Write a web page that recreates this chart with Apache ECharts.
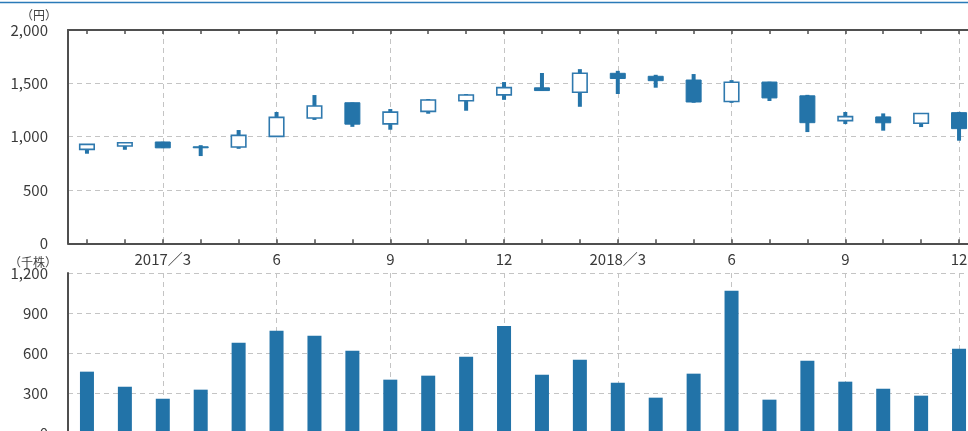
<!DOCTYPE html>
<html>
<head>
<meta charset="utf-8">
<script src="https://cdn.jsdelivr.net/npm/echarts@6/dist/echarts.min.js"></script>
<style>
html,body{margin:0;padding:0;background:#fff;overflow:hidden;}
#chart{width:968px;height:431px;}
</style>
</head>
<body>
<div id="chart"></div>
<script>
var months = ['2017/1','2017/2','2017/3','2017/4','2017/5','2017/6','2017/7','2017/8','2017/9','2017/10','2017/11','2017/12',
              '2018/1','2018/2','2018/3','2018/4','2018/5','2018/6','2018/7','2018/8','2018/9','2018/10','2018/11','2018/12'];
var tickLabels = ['','','2017／3','','','6','','','9','','','12','','','2018／3','','','6','','','9','','','12'];
var openPrice  = [881, 912, 950, 905, 903,1003,1175,1318,1120,1237,1337,1392,1458,1417,1594,1566,1531,1330,1512,1383,1150,1185,1125,1225];
var closePrice = [928, 943, 895, 898,1012,1181,1287,1117,1230,1343,1390,1460,1432,1594,1545,1525,1325,1510,1363,1131,1188,1130,1217,1075];
var lowPrice   = [840, 877, 893, 818, 886,1000,1157,1092,1065,1215,1243,1345,1430,1280,1400,1459,1318,1317,1334,1043,1118,1056,1090, 962];
var highPrice  = [928, 950, 952, 920,1062,1231,1390,1320,1259,1353,1400,1512,1597,1633,1617,1580,1587,1530,1515,1392,1231,1218,1219,1232];
var volume     = [460, 347, 257, 325, 677, 767, 730, 617, 400, 430, 572, 802, 437, 550, 377, 265, 445,1067, 250, 542, 385, 332, 280, 632];
var priceTicks = {min:0, max:2000, interval:500};
var volumeTicks = {min:0, max:1200, interval:300};

var candleData = months.map(function(m, i){ return [i, openPrice[i], closePrice[i], lowPrice[i], highPrice[i]]; });

var blue = '#2474a9';
var axisColor = '#4f4f4f';
var gridColor = '#c4c4c4';
var font = '"Noto Sans CJK JP", "Noto Sans", sans-serif';
function fmt(v){ return String(v).replace(/\B(?=(\d{3})+(?!\d))/g, ','); }
function isMajor(i){ return tickLabels[i] !== ''; }

var chart = echarts.init(document.getElementById('chart'), null, {renderer:'canvas'});
var option = {
  animation: false,
  backgroundColor: '#fff',
  textStyle: {fontFamily: font},
  grid: [
    {left: 68, top: 30, width: 910, height: 213.3, containLabel: false, outerBoundsMode: 'none'},
    {left: 68, top: 273, width: 910, height: 160, containLabel: false, outerBoundsMode: 'none'}
  ],
  xAxis: [
    {
      gridIndex: 0, type: 'category', data: months, position: 'bottom', boundaryGap: true,
      axisLine: {show: true, lineStyle: {color: axisColor, width: 2}},
      axisTick: {show: true, inside: true, length: 4, alignWithLabel: true, interval: 0, lineStyle: {color: axisColor, width: 1.5}},
      axisLabel: {show: true, interval: 0, margin: 8, fontSize: 15, color: '#3a3a3a', fontFamily: font,
                  formatter: function(v, i){ return tickLabels[i]; }},
      splitLine: {show: true, alignWithLabel: true, interval: function(i){ return isMajor(i); },
                  lineStyle: {color: gridColor, type: [5, 4], width: 1}}
    },
    {
      gridIndex: 0, type: 'category', data: months, position: 'top', boundaryGap: true,
      axisLine: {show: true, lineStyle: {color: axisColor, width: 2}},
      axisTick: {show: true, inside: true, length: 4, alignWithLabel: true, interval: 0, lineStyle: {color: axisColor, width: 1.5}},
      axisLabel: {show: false},
      splitLine: {show: false}
    },
    {
      gridIndex: 1, type: 'category', data: months, position: 'top', boundaryGap: true,
      axisLine: {show: true, lineStyle: {color: axisColor, width: 2}},
      axisTick: {show: true, inside: true, length: 4, alignWithLabel: true, interval: 0, lineStyle: {color: axisColor, width: 1.5}},
      axisLabel: {show: false},
      splitLine: {show: true, alignWithLabel: true, interval: function(i){ return isMajor(i); },
                  lineStyle: {color: gridColor, type: [5, 4], width: 1}}
    }
  ],
  yAxis: [
    {
      gridIndex: 0, type: 'value', min: priceTicks.min, max: priceTicks.max, interval: priceTicks.interval,
      axisLine: {show: true, lineStyle: {color: axisColor, width: 2}},
      axisTick: {show: false},
      axisLabel: {margin: 20, fontSize: 15, color: '#3a3a3a', fontFamily: font, formatter: fmt},
      splitLine: {show: true, lineStyle: {color: gridColor, type: [5, 4], width: 1}}
    },
    {
      gridIndex: 1, type: 'value', min: volumeTicks.min, max: volumeTicks.max, interval: volumeTicks.interval,
      axisLine: {show: true, lineStyle: {color: axisColor, width: 2}},
      axisTick: {show: false},
      axisLabel: {margin: 20, fontSize: 15, color: '#3a3a3a', fontFamily: font, formatter: fmt},
      splitLine: {show: true, lineStyle: {color: gridColor, type: [5, 4], width: 1}}
    }
  ],
  series: [
    {
      type: 'custom', xAxisIndex: 0, yAxisIndex: 0, data: candleData,
      renderItem: function(params, api){
        var i = api.value(0), o = api.value(1), c = api.value(2), l = api.value(3), h = api.value(4);
        var pO = api.coord([i, o]), pC = api.coord([i, c]), pL = api.coord([i, l]), pH = api.coord([i, h]);
        var x = pO[0];
        var up = c >= o;
        var top = Math.min(pO[1], pC[1]), bot = Math.max(pO[1], pC[1]);
        var bw = 14.5;
        var body = up ?
          {type: 'rect', shape: {x: x - bw/2, y: top, width: bw, height: Math.max(bot - top, 1)},
           style: {fill: '#ffffff', stroke: '#2f79ae', lineWidth: 1.6}} :
          {type: 'rect', shape: {x: x - 7.5, y: top, width: 15, height: Math.max(bot - top, 1)},
           style: {fill: blue, stroke: blue, lineWidth: 1}};
        return {type: 'group', children: [
          {type: 'rect', shape: {x: x - 2, y: pH[1], width: 4, height: pL[1] - pH[1]}, style: {fill: blue}},
          body
        ]};
      },
      z: 3
    },
    {
      type: 'bar', xAxisIndex: 2, yAxisIndex: 1, data: volume, barWidth: 14,
      itemStyle: {color: '#2273a8'}
    }
  ],
  graphic: [
    {type: 'line', shape: {x1: 0, y1: 2.5, x2: 968, y2: 2.5}, style: {stroke: '#2a7ab8', lineWidth: 1.5}, silent: true},
    {type: 'text', x: 39, y: 15, style: {text: '（円）', fontSize: 12, fill: '#444', fontFamily: font, textAlign: 'center', textVerticalAlign: 'middle'}},
    {type: 'text', x: 33, y: 262, style: {text: '（千株）', fontSize: 12, fill: '#444', fontFamily: font, textAlign: 'center', textVerticalAlign: 'middle'}}
  ]
};
chart.setOption(option);
</script>
</body>
</html>
